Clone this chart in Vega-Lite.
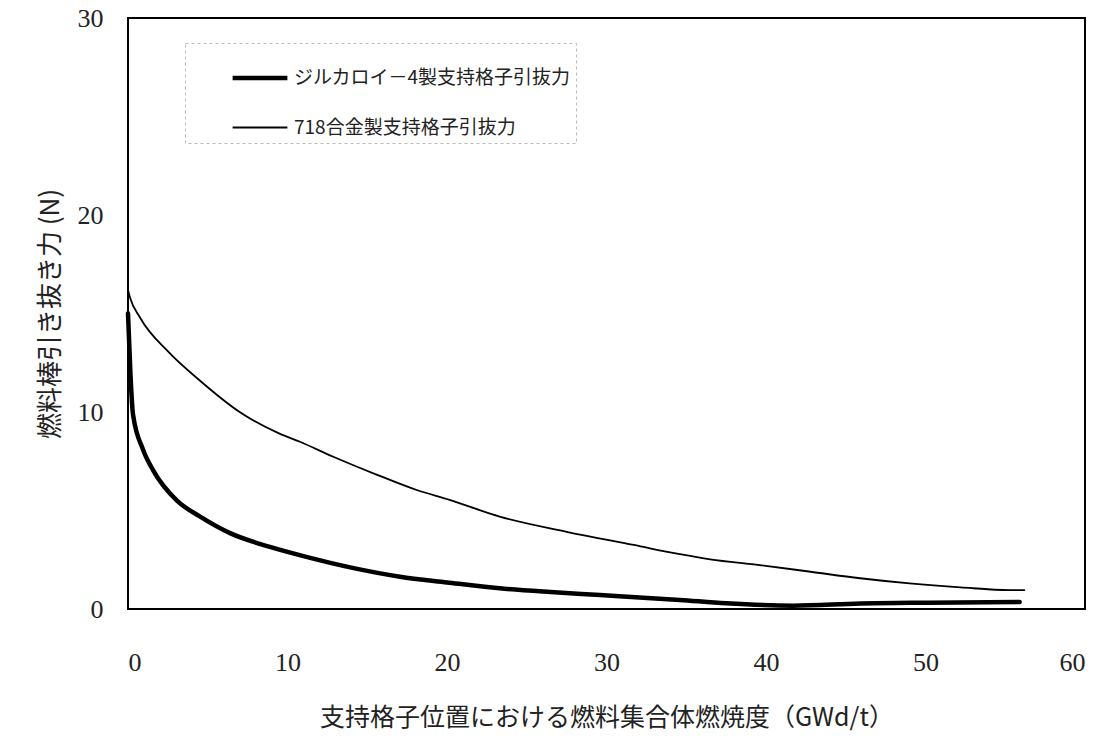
{
  "$schema": "https://vega.github.io/schema/vega-lite/v6.json",
  "autosize": {"type": "none"},
  "width": 957,
  "height": 591,
  "padding": {"left": 128, "top": 18, "right": 28, "bottom": 131},
  "background": "white",
  "config": {
    "view": {"stroke": "black", "strokeWidth": 2},
    "font": "Noto Sans CJK JP"
  },
  "data": {
    "values": [
      {"series": "ジルカロイ－4製支持格子引抜力", "x": 0, "y": 15.0},
      {"series": "ジルカロイ－4製支持格子引抜力", "x": 0.15, "y": 12.0},
      {"series": "ジルカロイ－4製支持格子引抜力", "x": 0.31, "y": 9.9},
      {"series": "ジルカロイ－4製支持格子引抜力", "x": 0.94, "y": 8.1},
      {"series": "ジルカロイ－4製支持格子引抜力", "x": 1.57, "y": 7.05},
      {"series": "ジルカロイ－4製支持格子引抜力", "x": 3.07, "y": 5.5},
      {"series": "ジルカロイ－4製支持格子引抜力", "x": 4.5, "y": 4.7},
      {"series": "ジルカロイ－4製支持格子引抜力", "x": 6.4, "y": 3.85},
      {"series": "ジルカロイ－4製支持格子引抜力", "x": 8.9, "y": 3.15},
      {"series": "ジルカロイ－4製支持格子引抜力", "x": 11.3, "y": 2.62},
      {"series": "ジルカロイ－4製支持格子引抜力", "x": 14.0, "y": 2.1},
      {"series": "ジルカロイ－4製支持格子引抜力", "x": 17.05, "y": 1.64},
      {"series": "ジルカロイ－4製支持格子引抜力", "x": 20.0, "y": 1.35},
      {"series": "ジルカロイ－4製支持格子引抜力", "x": 23.3, "y": 1.05},
      {"series": "ジルカロイ－4製支持格子引抜力", "x": 26.5, "y": 0.86},
      {"series": "ジルカロイ－4製支持格子引抜力", "x": 29.6, "y": 0.71},
      {"series": "ジルカロイ－4製支持格子引抜力", "x": 34.6, "y": 0.46},
      {"series": "ジルカロイ－4製支持格子引抜力", "x": 37.5, "y": 0.29},
      {"series": "ジルカロイ－4製支持格子引抜力", "x": 41.7, "y": 0.17},
      {"series": "ジルカロイ－4製支持格子引抜力", "x": 45.9, "y": 0.28},
      {"series": "ジルカロイ－4製支持格子引抜力", "x": 50.1, "y": 0.32},
      {"series": "ジルカロイ－4製支持格子引抜力", "x": 55.9, "y": 0.35},
      {"series": "718合金製支持格子引抜力", "x": 0, "y": 16.2},
      {"series": "718合金製支持格子引抜力", "x": 0.13, "y": 15.8},
      {"series": "718合金製支持格子引抜力", "x": 0.75, "y": 14.8},
      {"series": "718合金製支持格子引抜力", "x": 2.6, "y": 13.0},
      {"series": "718合金製支持格子引抜力", "x": 4.5, "y": 11.6},
      {"series": "718合金製支持格子引抜力", "x": 7.0, "y": 10.0},
      {"series": "718合金製支持格子引抜力", "x": 9.5, "y": 8.9},
      {"series": "718合金製支持格子引抜力", "x": 10.78, "y": 8.49},
      {"series": "718合金製支持格子引抜力", "x": 12.87, "y": 7.73},
      {"series": "718合金製支持格子引抜力", "x": 15.5, "y": 6.85},
      {"series": "718合金製支持格子引抜力", "x": 18.1, "y": 6.04},
      {"series": "718合金製支持格子引抜力", "x": 20.2, "y": 5.53},
      {"series": "718合金製支持格子引抜力", "x": 23.3, "y": 4.69},
      {"series": "718合金製支持格子引抜力", "x": 27.5, "y": 3.92},
      {"series": "718合金製支持格子引抜力", "x": 31.7, "y": 3.25},
      {"series": "718合金製支持格子引抜力", "x": 34.6, "y": 2.78},
      {"series": "718合金製支持格子引抜力", "x": 36.5, "y": 2.52},
      {"series": "718合金製支持格子引抜力", "x": 39.6, "y": 2.23},
      {"series": "718合金製支持格子引抜力", "x": 42.8, "y": 1.89},
      {"series": "718合金製支持格子引抜力", "x": 45.9, "y": 1.56},
      {"series": "718合金製支持格子引抜力", "x": 49.0, "y": 1.3},
      {"series": "718合金製支持格子引抜力", "x": 52.2, "y": 1.1},
      {"series": "718合金製支持格子引抜力", "x": 55.3, "y": 0.96},
      {"series": "718合金製支持格子引抜力", "x": 56.2, "y": 0.96}
    ]
  },
  "mark": {"type": "line", "color": "black", "interpolate": "monotone", "strokeCap": "round"},
  "encoding": {
    "x": {
      "field": "x", "type": "quantitative",
      "scale": {"domain": [0, 60], "nice": false},
      "axis": {
        "values": [0, 10, 20, 30, 40, 50, 60],
        "domain": false, "ticks": false, "grid": false,
        "labelFont": "Liberation Serif", "labelFontSize": 26, "labelColor": "#222",
        "labelPadding": 40,
        "title": "支持格子位置における燃料集合体燃焼度（GWd/t）",
        "titleFont": "Noto Sans CJK JP", "titleFontSize": 25, "titleFontWeight": "normal",
        "titleColor": "#222", "titlePadding": 30
      }
    },
    "y": {
      "field": "y", "type": "quantitative",
      "scale": {"domain": [0, 30], "nice": false},
      "axis": {
        "values": [0, 10, 20, 30],
        "domain": false, "ticks": false, "grid": false,
        "labelFont": "Liberation Serif", "labelFontSize": 26, "labelColor": "#222",
        "labelPadding": 25,
        "title": "燃料棒引き抜き力 (N)",
        "titleFont": "Noto Sans CJK JP", "titleFontSize": 26, "titleFontWeight": "normal",
        "titleColor": "#222", "titlePadding": 14
      }
    },
    "strokeWidth": {
      "field": "series", "type": "nominal",
      "scale": {"domain": ["ジルカロイ－4製支持格子引抜力", "718合金製支持格子引抜力"], "range": [4.5, 1.8]},
      "legend": {
        "title": null,
        "orient": "none", "legendX": 57, "legendY": 25,
        "symbolType": "stroke", "symbolSize": 3000, "symbolStrokeColor": "black",
        "symbolOffset": 40,
        "labelFont": "Noto Sans CJK JP", "labelFontSize": 19, "labelColor": "#222",
        "labelOffset": 4, "labelLimit": 500,
        "rowPadding": 11, "padding": 5,
        "strokeColor": "#bbbbbb",
        "encode": {"legend": {"update": {"strokeDash": {"value": [3, 3]}}}}
      }
    }
  }
}
